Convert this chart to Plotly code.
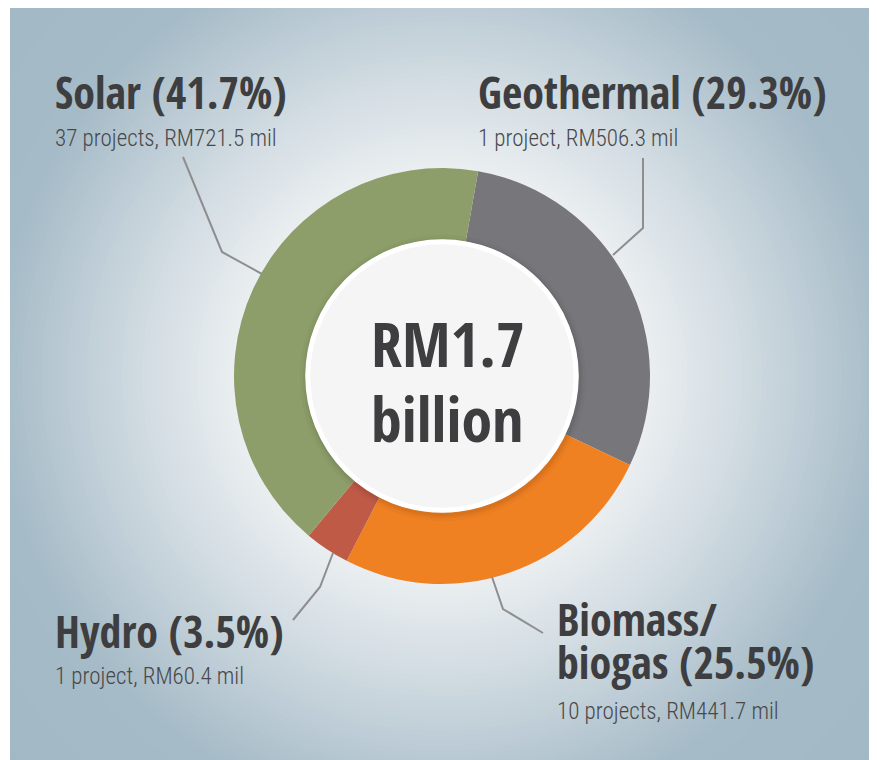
import plotly.graph_objects as go

# ---------------- data ----------------
categories = ["Geothermal", "Biomass/ biogas", "Hydro", "Solar"]
values_mil = [506.3, 441.7, 60.4, 721.5]
projects = [1, 10, 1, 37]
pct_labels = ["29.3", "25.5", "3.5", "41.7"]
total_label = ["RM1.7", "billion"]

# ---------------- style ----------------
slice_colors = ["#77777b", "#f08122", "#bf5a47", "#8d9e6a"]
W, H = 877, 760
OFF = 8                      # page body margin: data coords == screen pixels
CX, CY, R = 442, 376, 208    # donut centre / radius in screen pixels
HOLE = 0.655
TITLE_FONT = "Open Sans Condensed, Roboto Condensed, DejaVu Sans Condensed, sans-serif"
SUB_FONT = "Roboto Condensed, DejaVu Sans Condensed, sans-serif"
TXT = "#3e3e40"

fig = go.Figure()

fig.add_trace(go.Scatter(x=[20], y=[20], mode="markers", marker=dict(opacity=0),
                         showlegend=False, hoverinfo="skip"))


def px(x):
    return (x - OFF) / W


def py(y):
    return 1 - (y - OFF) / H


fig.add_trace(go.Pie(
    labels=categories, values=values_mil, sort=False, direction="clockwise",
    rotation=10, hole=HOLE, textinfo="none", hoverinfo="label+value+percent",
    marker=dict(colors=slice_colors, line=dict(width=0)),
    domain=dict(x=[px(CX - R), px(CX + R)], y=[py(CY + R), py(CY - R)]),
    showlegend=False,
))

shapes = []
stops = [(0, (242, 244, 246)), (210, (234, 238, 241)), (300, (210, 220, 226)),
         (380, (186, 202, 212)), (450, (165, 187, 199)), (600, (162, 184, 197))]


def col_at(r):
    for (r0, c0), (r1, c1) in zip(stops[:-1], stops[1:]):
        if r0 <= r <= r1:
            t = (r - r0) / (r1 - r0)
            return "rgb(%d,%d,%d)" % tuple(round(a + (b - a) * t) for a, b in zip(c0, c1))
    return "rgb(%d,%d,%d)" % stops[-1][1]


r = 600
while r > 0:
    shapes.append(dict(type="circle", xref="x", yref="y", layer="below",
                       x0=CX - r, x1=CX + r, y0=CY - r, y1=CY + r,
                       fillcolor=col_at(r), line=dict(width=0)))
    r -= 5

# centre disc with soft shadow
rin = R * HOLE
for k, a in [(7, 0.025), (4, 0.035), (2, 0.045)]:
    shapes.append(dict(type="circle", xref="x", yref="y", layer="above",
                       x0=CX - rin - k + 1, x1=CX + rin + k + 1, y0=CY - rin - k + 2, y1=CY + rin + k + 2,
                       fillcolor="rgba(0,0,0,%s)" % a, line=dict(width=0)))
shapes.append(dict(type="circle", xref="x", yref="y", layer="above",
                   x0=CX - rin + 2, x1=CX + rin - 2, y0=CY - rin + 2, y1=CY + rin - 2,
                   fillcolor="#f5f5f5", line=dict(color="white", width=5)))

# leader lines (layout positions in screen pixels)
leaders = {
    "Solar": [(183, 157), (222, 252), (262, 274)],
    "Geothermal": [(643, 158), (643, 228), (613, 255)],
    "Hydro": [(293, 620), (320, 587), (333, 553)],
    "Biomass/ biogas": [(543, 633), (503, 609), (492, 577)],
}
for pts in leaders.values():
    path = "M %d,%d " % pts[0] + " ".join("L %d,%d" % p for p in pts[1:])
    shapes.append(dict(type="path", xref="x", yref="y", layer="above", path=path,
                       line=dict(color="#8e8e90", width=2)))

annotations = []


def ann(text, x, baseline, size, fam, color, k, anchor="left", weight="normal"):
    annotations.append(dict(
        text=text, x=x, y=baseline - k * size, xref="x", yref="y",
        xanchor=anchor, yanchor="middle", showarrow=False,
        font=dict(family=fam, size=size, color=color, weight=weight)))


TS, SS = 44, 23
label_pos = {   # left x, title baseline(s), subtitle baseline
    "Geothermal": (476, [110], 145),
    "Biomass/ biogas": (555, [637, 680], 718),
    "Hydro": (53, [649], 683),
    "Solar": (53, [110], 145),
}
for name, v, n, p in zip(categories, values_mil, projects, pct_labels):
    x, bls, sbl = label_pos[name]
    sub = "%d project%s, RM%s mil" % (n, "" if n == 1 else "s", v)
    parts = name.split(" ")
    lines = parts[:-1] + ["%s (%s%%)" % (parts[-1], p)]
    for line, bl in zip(lines, bls):
        ann(line, x, bl, TS, TITLE_FONT, TXT, 0.41, weight="bold")
    ann(sub, x, sbl, SS, SUB_FONT, "#48484a", 0.3, weight=300)

ann(total_label[0], 448, 368, 62, TITLE_FONT, TXT, 0.41, anchor="center", weight="bold")
ann(total_label[1], 447, 442, 62, TITLE_FONT, TXT, 0.38, anchor="center", weight="bold")

fig.update_layout(
    width=W, height=H, margin=dict(l=0, r=0, t=0, b=0),
    paper_bgcolor="white", plot_bgcolor="#a2b8c5",
    xaxis=dict(domain=[2 / W, 1], range=[10, OFF + W], visible=False, fixedrange=True),
    yaxis=dict(domain=[0, 1], range=[OFF + H, OFF], visible=False, fixedrange=True),
    shapes=shapes, annotations=annotations, showlegend=False,
)

fig.write_html("out.html")
